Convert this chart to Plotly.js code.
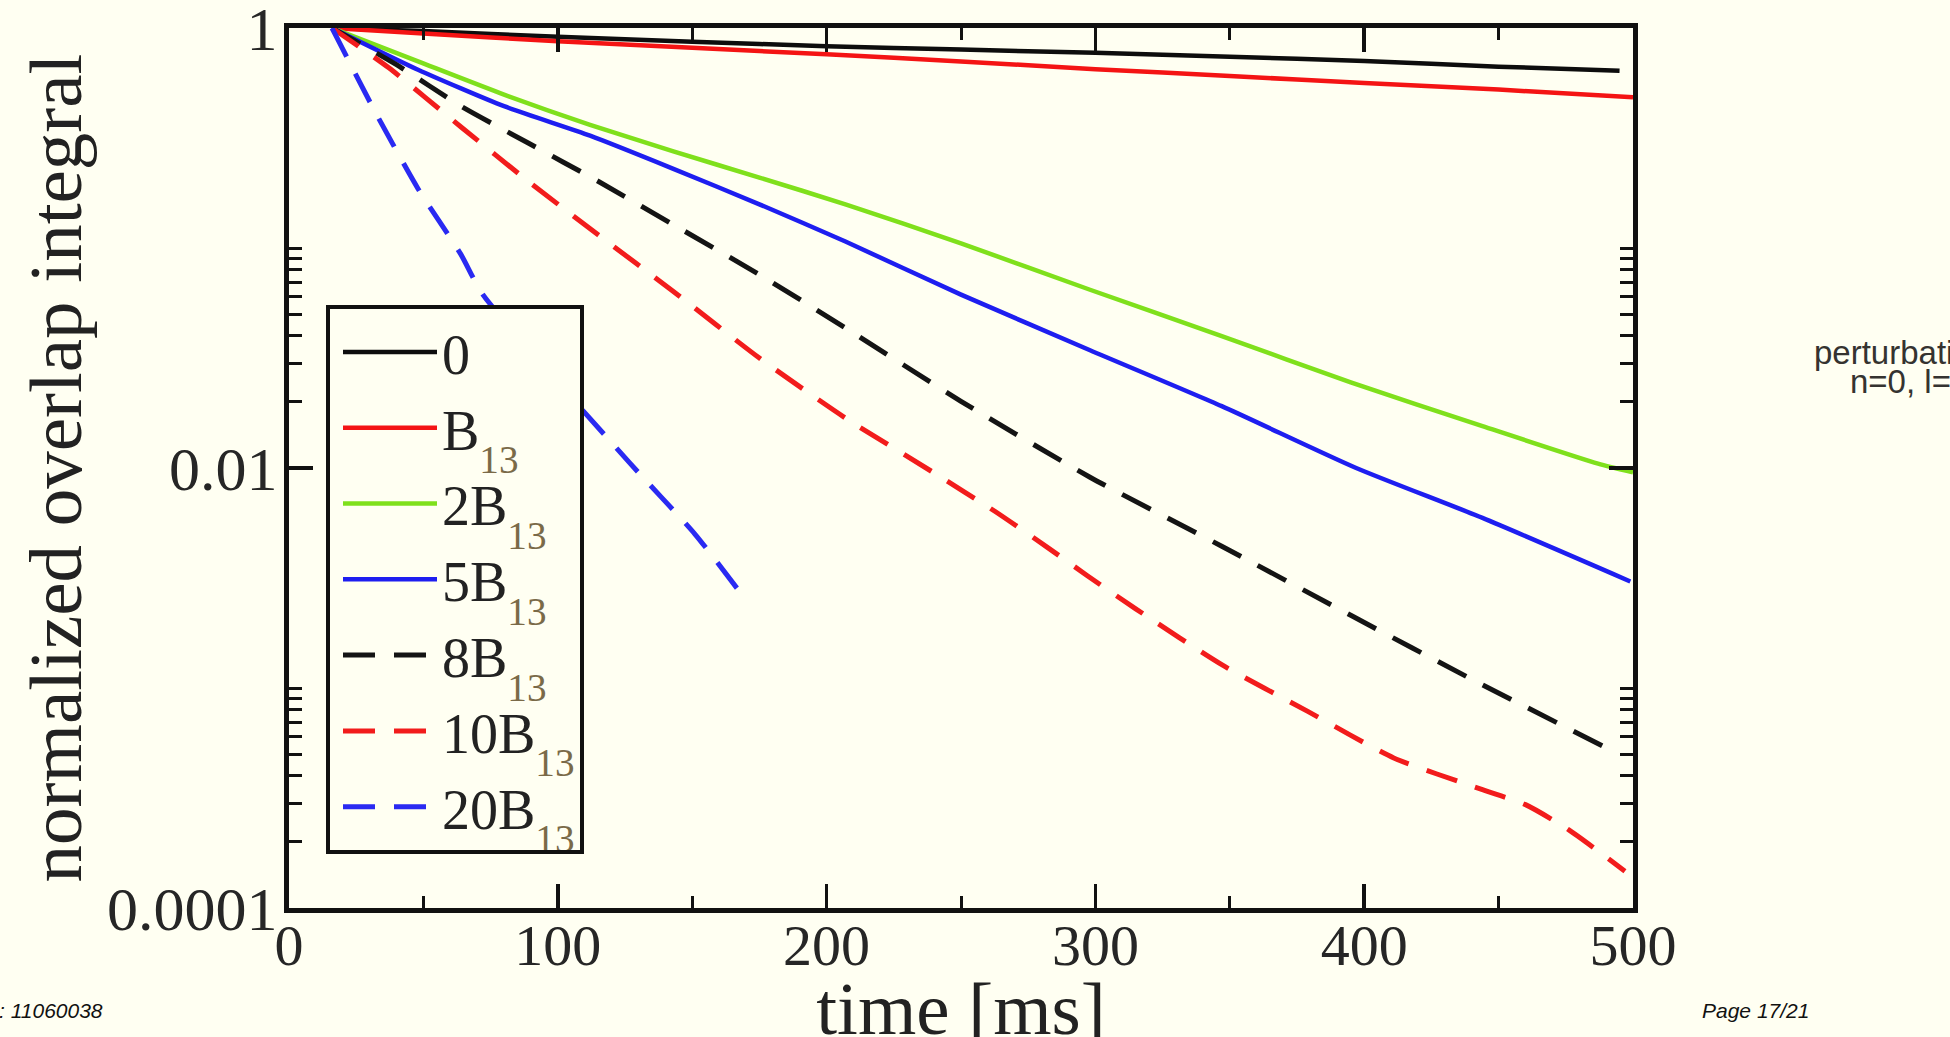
<!DOCTYPE html>
<html>
<head>
<meta charset="utf-8">
<script src="https://cdn.plot.ly/plotly-3.0.1.min.js"></script>
<style>
  html, body { margin: 0; padding: 0; background: #fffff2; overflow: hidden; width: 1950px; height: 1037px; }
  #chart { width: 1950px; height: 1050px; }
</style>
</head>
<body>
<div id="chart"></div>
<script>
// ---------------- data ----------------
const seriesNames = ['0', 'B13', '2B13', '5B13', '8B13', '10B13', '20B13'];

// time [ms]
const t_0     = [16, 50, 100, 150, 200, 250, 300, 350, 400, 450, 495];
const t_B13   = [16, 50, 100, 150, 200, 250, 300, 350, 400, 450, 500];
const t_2B13  = [16, 48, 80, 112, 143, 175, 207, 250, 298, 347, 395, 444, 487, 500];
const t_5B13  = [16, 48, 80, 112, 143, 175, 207, 250, 298, 347, 397, 444, 499];
const t_8B13  = [16, 40, 64, 89, 115, 143, 175, 207, 250, 298, 347, 395, 440, 493];
const t_10B13 = [16, 37, 64, 89, 115, 143, 175, 207, 241, 263, 282, 297, 315, 347, 379, 411, 444, 460, 476, 497];
const t_20B13 = [16, 32, 48, 64, 72, 127, 151, 170];

// normalized overlap integral
const v_0     = [1, 0.968, 0.912, 0.867, 0.826, 0.798, 0.771, 0.741, 0.708, 0.667, 0.640];
const v_B13   = [1, 0.944, 0.871, 0.813, 0.759, 0.705, 0.650, 0.605, 0.562, 0.525, 0.484];
const v_2B13  = [1, 0.705, 0.498, 0.363, 0.275, 0.209, 0.158, 0.105, 0.0646, 0.0398, 0.0245, 0.0155, 0.01047, 0.00955];
const v_5B13  = [1, 0.646, 0.441, 0.324, 0.229, 0.158, 0.107, 0.0614, 0.0343, 0.0191, 0.0100, 0.00593, 0.00305];
const v_8B13  = [1, 0.681, 0.441, 0.300, 0.201, 0.1276, 0.0757, 0.0433, 0.0201, 0.00908, 0.00441, 0.00214, 0.001096, 0.000513];
const v_10B13 = [1, 0.661, 0.355, 0.201, 0.1148, 0.0635, 0.0316, 0.01687, 0.00933, 0.00631, 0.00437, 0.00324, 0.00229, 0.001276, 0.000783, 0.000481, 0.000345, 0.000295, 0.000227, 0.000147];
const v_20B13 = [1, 0.417, 0.186, 0.0933, 0.0617, 0.01047, 0.00501, 0.00251];

// axis ticks
const xTickVals  = [0, 100, 200, 300, 400, 500];
const xTickText  = ['0', '100', '200', '300', '400', '500'];
const xMinorVals = [50, 150, 250, 350, 450];
const yTickVals  = [0.0001, 0.01, 1];
const yTickText  = ['0.0001', '0.01', '1'];
const yMinorVals = [0.0002, 0.0003, 0.0004, 0.0005, 0.0006, 0.0007, 0.0008, 0.0009, 0.001,
                    0.02, 0.03, 0.04, 0.05, 0.06, 0.07, 0.08, 0.09, 0.1];

// ---------------- styling ----------------
const BG = '#fffff2';
const SERIF = 'Liberation Serif, Times New Roman, serif';
const SANS = 'Liberation Sans, Arial, sans-serif';
const SUBCOL = '#7a6a48';
function legendLabel(name) {
  const i = name.indexOf('B13');
  if (i < 0) return name;
  return name.slice(0, i) + 'B<sub><span style="color:' + SUBCOL + ';baseline-shift:-0.3em">13</span></sub>';
}
const styles = [
  {color: '#0d0d0d', width: 4.5, dash: 'solid'},
  {color: '#f41414', width: 4.5, dash: 'solid'},
  {color: '#7fe01c', width: 4.5, dash: 'solid'},
  {color: '#1e1ef0', width: 4.5, dash: 'solid'},
  {color: '#141414', width: 5,   dash: '32px,19px'},
  {color: '#f21c1c', width: 5,   dash: '32px,19px'},
  {color: '#2a2af2', width: 5,   dash: '32px,19px'}
];
const xs = [t_0, t_B13, t_2B13, t_5B13, t_8B13, t_10B13, t_20B13];
const ys = [v_0, v_B13, v_2B13, v_5B13, v_8B13, v_10B13, v_20B13];

const traces = seriesNames.map((n, i) => ({
  type: 'scatter', mode: 'lines',
  x: xs[i], y: ys[i],
  name: legendLabel(n),
  line: {color: styles[i].color, width: styles[i].width, dash: styles[i].dash, shape: 'spline', smoothing: 0.6},
  hoverinfo: 'skip'
}));

// ---------------- layout ----------------
// the figure is a little taller than the 1037px window so that, as in the
// reference, the bottom of the x-axis title is cut by the window edge
const W = 1950, H = 1050;
const plotL = 289, plotR = 1633, plotT = 28, plotB = 908;
const px2x = X => (X - plotL) / (plotR - plotL);
const px2y = Y => (plotB - Y) / (plotB - plotT);

const axisCommon = {
  showline: true, linewidth: 5, linecolor: '#111', mirror: 'ticks',
  ticks: 'inside', tickwidth: 3.5, tickcolor: '#111', ticklen: 24,
  showgrid: false, zeroline: false, automargin: false,
  ticklabeloverflow: 'allow'
};

const layout = {
  width: W, height: H,
  paper_bgcolor: BG, plot_bgcolor: BG,
  margin: {l: plotL, r: W - plotR, t: plotT, b: H - plotB, pad: 0},
  font: {family: SERIF, color: '#222'},
  showlegend: true,
  xaxis: Object.assign({}, axisCommon, {
    range: [0, 500],
    tickmode: 'array', tickvals: xTickVals, ticktext: xTickText,
    tickfont: {family: SERIF, size: 58, color: '#262626'},
    ticklabelstandoff: -18,
    minor: {tickmode: 'array', tickvals: xMinorVals, ticks: 'inside', ticklen: 12, tickwidth: 3, tickcolor: '#111', showgrid: false},
    title: {text: 'time [ms]', font: {family: SERIF, size: 75, color: '#222'}, standoff: 0}
  }),
  yaxis: Object.assign({}, axisCommon, {
    type: 'log', range: [-4, 0],
    tickmode: 'array', tickvals: yTickVals, ticktext: yTickText,
    tickfont: {family: SERIF, size: 62, color: '#262626'},
    ticklabelstandoff: -6,
    minor: {tickmode: 'array', tickvals: yMinorVals, ticks: 'inside', ticklen: 13, tickwidth: 3, tickcolor: '#111', showgrid: false},
    title: {text: 'normalized overlap integral', font: {family: SERIF, size: 75, color: '#222'}, standoff: 2}
  }),
  legend: {
    x: px2x(326), y: px2y(305), xanchor: 'left', yanchor: 'top',
    bgcolor: BG, bordercolor: '#111', borderwidth: 4,
    font: {family: SERIF, size: 56, color: '#222'},
    itemwidth: 94, indentation: 8, tracegroupgap: 0, traceorder: 'normal'
  },
  annotations: [
    {xref: 'paper', yref: 'paper', x: px2x(1812), y: px2y(352), xanchor: 'left', yanchor: 'middle',
     text: 'perturbati', showarrow: false, font: {family: SANS, size: 33, color: '#353330'}},
    {xref: 'paper', yref: 'paper', x: px2x(1848), y: px2y(382), xanchor: 'left', yanchor: 'middle',
     text: 'n=0, l=2', showarrow: false, font: {family: SANS, size: 33, color: '#353330'}},
    {xref: 'paper', yref: 'paper', x: px2x(-3), y: px2y(1011), xanchor: 'left', yanchor: 'middle',
     text: ': 11060038', showarrow: false, font: {family: SANS, size: 21, color: '#111', style: 'italic'}},
    {xref: 'paper', yref: 'paper', x: px2x(1700), y: px2y(1011), xanchor: 'left', yanchor: 'middle',
     text: 'Page 17/21', showarrow: false, font: {family: SANS, size: 21, color: '#111', style: 'italic'}}
  ]
};

Plotly.newPlot('chart', traces, layout, {displayModeBar: false, staticPlot: true});
</script>
</body>
</html>
